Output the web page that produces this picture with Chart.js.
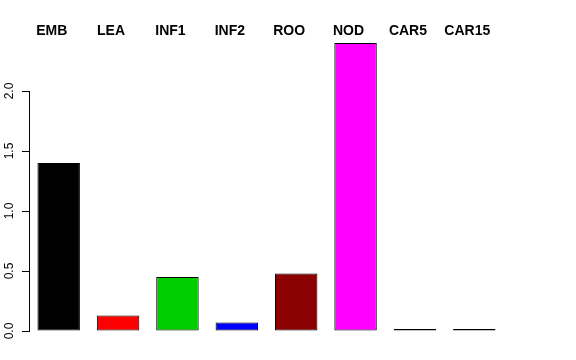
<!DOCTYPE html>
<html>
<head>
<meta charset="utf-8">
<script src="https://cdn.jsdelivr.net/npm/chart.js@4"></script>
<style>
  html, body { margin: 0; padding: 0; background: #ffffff; }
  #wrap { width: 576px; height: 360px; }
</style>
</head>
<body>
<div id="wrap"><canvas id="c" width="576" height="360"></canvas></div>
<script>
const categories = ["EMB", "LEA", "INF1", "INF2", "ROO", "NOD", "CAR5", "CAR15"];
const values = [1.40, 0.13, 0.45, 0.07, 0.48, 2.40, 0, 0];
const barColors = ["#000000", "#FF0000", "#00CD00", "#0000FF", "#8B0000", "#FF00FF", "#BEBEBE", "#BEBEBE"];
const yTicks = [0, 0.5, 1.0, 1.5, 2.0];

const FONT = "'Liberation Sans', Arial, Helvetica, sans-serif";

new Chart(document.getElementById('c'), {
  type: 'bar',
  data: {
    labels: categories,
    datasets: [{
      data: values,
      backgroundColor: barColors,
      borderColor: '#000000',
      borderWidth: 1,
      borderSkipped: false,
      minBarLength: 2,
      clip: false,
      barPercentage: 0.715,
      categoryPercentage: 1.0
    }]
  },
  options: {
    responsive: false,
    devicePixelRatio: 1,
    animation: false,
    layout: { padding: { left: 0, right: 72, top: 0, bottom: 29 } },
    plugins: { legend: { display: false }, tooltip: { enabled: false }, title: { display: false } },
    scales: {
      x: {
        position: 'top',
        grid: { display: false, drawTicks: false },
        border: { display: false },
        ticks: {
          color: '#000000',
          font: { family: FONT, size: 14, weight: 'bold' },
          padding: 51,
          labelOffset: -7,
          maxRotation: 0,
          autoSkip: false
        },
        afterFit: (s) => { s.height = 91; s.paddingLeft = 0; s.paddingRight = 0; }
      },
      y: {
        position: 'left',
        min: 0,
        max: 2.0,
        afterBuildTicks: (s) => { s.ticks = yTicks.map(v => ({ value: v })); },
        grid: { drawOnChartArea: false, drawTicks: true, tickLength: 7, color: '#000000', lineWidth: 1 },
        border: { display: true, color: '#000000', width: 1 },
        ticks: {
          color: '#000000',
          font: { family: FONT, size: 12 },
          minRotation: 90,
          maxRotation: 90,
          crossAlign: 'center',
          padding: 4,
          callback: (v) => Number(v).toFixed(1)
        },
        afterFit: (s) => { s.width = 29; s.paddingTop = 0; s.paddingBottom = 0; }
      }
    }
  }
});
</script>
</body>
</html>
